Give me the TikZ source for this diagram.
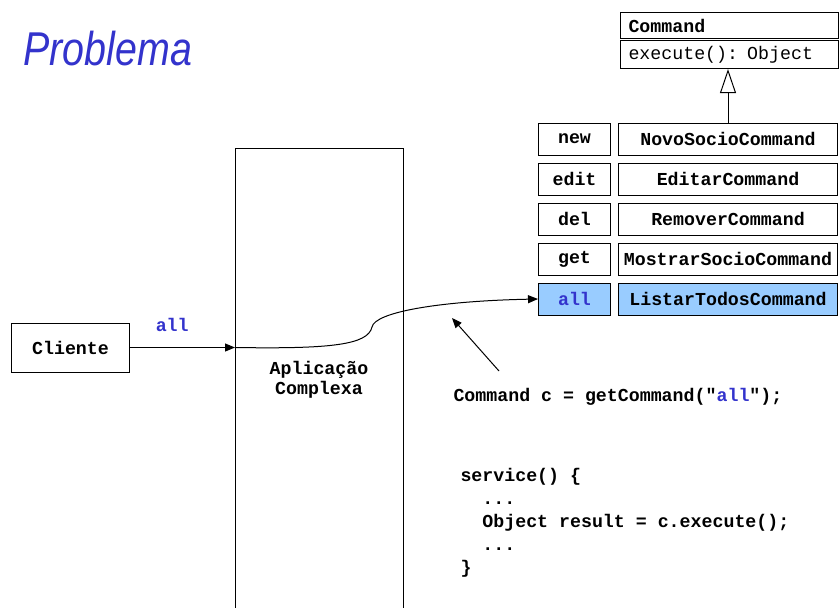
\documentclass[tikz,border=0pt]{standalone}
\usepackage{fontspec}
\usepackage{xcolor}
\usepackage{graphicx}
\usetikzlibrary{positioning,arrows.meta}

\newfontfamily\codefont{Liberation Mono}
\newfontfamily\titlefont{Liberation Sans}
\definecolor{callblue}{RGB}{51,51,204}
\definecolor{rowfill}{RGB}{153,204,255}

\begin{document}
\begin{tikzpicture}[x=0.75pt, y=-0.75pt, line width=0.75pt,
    txt/.style={font=\codefont\bfseries\fontsize{13.7}{15}\selectfont},
    box/.style={draw, txt, inner sep=2pt},
    key/.style={box, minimum width=54pt, minimum height=24pt},
    cmd/.style={box, minimum width=164.25pt, minimum height=24pt},
    picked/.style={fill=rowfill},
    uml/.style={draw, font=\codefont\fontsize{13.7}{15}\selectfont, text width=151.5pt,
      inner xsep=6pt, inner ysep=0pt, align=left, minimum height=19.5pt},
    tip/.style={-{Triangle[length=7.5pt, width=6pt]}}]
    \useasboundingbox (0,0) rectangle (839,607);

    \node[anchor=base west, inner sep=0, text=callblue] (title) at (23,65)
      {\titlefont\itshape\fontsize{35.6}{40}\selectfont\scalebox{0.83}[1]{Problema}};

    \node[uml, font=\codefont\bfseries\fontsize{13.7}{15}\selectfont, anchor=north west] (cname) at (620,12) {Command};
    \node[uml, below=1pt of cname, minimum height=20.8pt] (cop) {execute(): Object};

    \node[key] (knew) at (574.5,139) {new};
    \node[cmd, right=5.25pt of knew] (cnew) {NovoSocioCommand};
    \node[key, below=5.25pt of knew] (kedit) {edit};
    \node[cmd, right=5.25pt of kedit] (cedit) {EditarCommand};
    \node[key, below=5.25pt of kedit] (kdel) {del};
    \node[cmd, right=5.25pt of kdel] (cdel) {RemoverCommand};
    \node[key, below=5.25pt of kdel] (kget) {get};
    \node[cmd, right=5.25pt of kget] (cget) {MostrarSocioCommand};
    \node[key, picked, text=callblue, below=5.25pt of kget] (kall) {all};
    \node[cmd, picked, right=5.25pt of kall] (call) {ListarTodosCommand};

    \draw[-{Triangle[open, length=18pt, width=12pt]}] (cnew.north) -- (cnew.north |- cop.south);

    \node[box, minimum width=89pt, minimum height=36.75pt] (cli) at (70.5,347.5) {Cliente};
    \node[draw, inner sep=0, minimum width=126pt, minimum height=354pt, anchor=north west] (app) at (235,148) {};
    \node[txt, align=center] (apptxt) at (319,380) {Aplicação\\Complexa};

    \coordinate (in) at (cli.east -| app.west);
    \draw[tip] (cli) -- node[txt, above=8pt, pos=.4, text=callblue] (lbl) {all} (in);
    \draw[tip] (in) .. controls (330,349) and (368,345) .. (372,327)
      .. controls (375,312) and (440,301) .. (kall.west);

    \coordinate (ptail) at (499,371);
    \coordinate (phead) at (452,318);
    \draw[tip] (ptail) -- (phead);

    \node[txt, anchor=base west, inner sep=0] (getcmd) at (453,401)
      {Command c = getCommand("\textcolor{callblue}{all}");};

    \node[txt, anchor=north west, inner sep=0, align=left,
      font=\codefont\bfseries\fontsize{13.7}{17.25}\selectfont] (svc) at (460,468)
      {service() \{\\
       \hspace*{1.2em}...\\
       \hspace*{1.2em}Object result = c.execute();\\
       \hspace*{1.2em}...\\
       \}};
\end{tikzpicture}
\end{document}
